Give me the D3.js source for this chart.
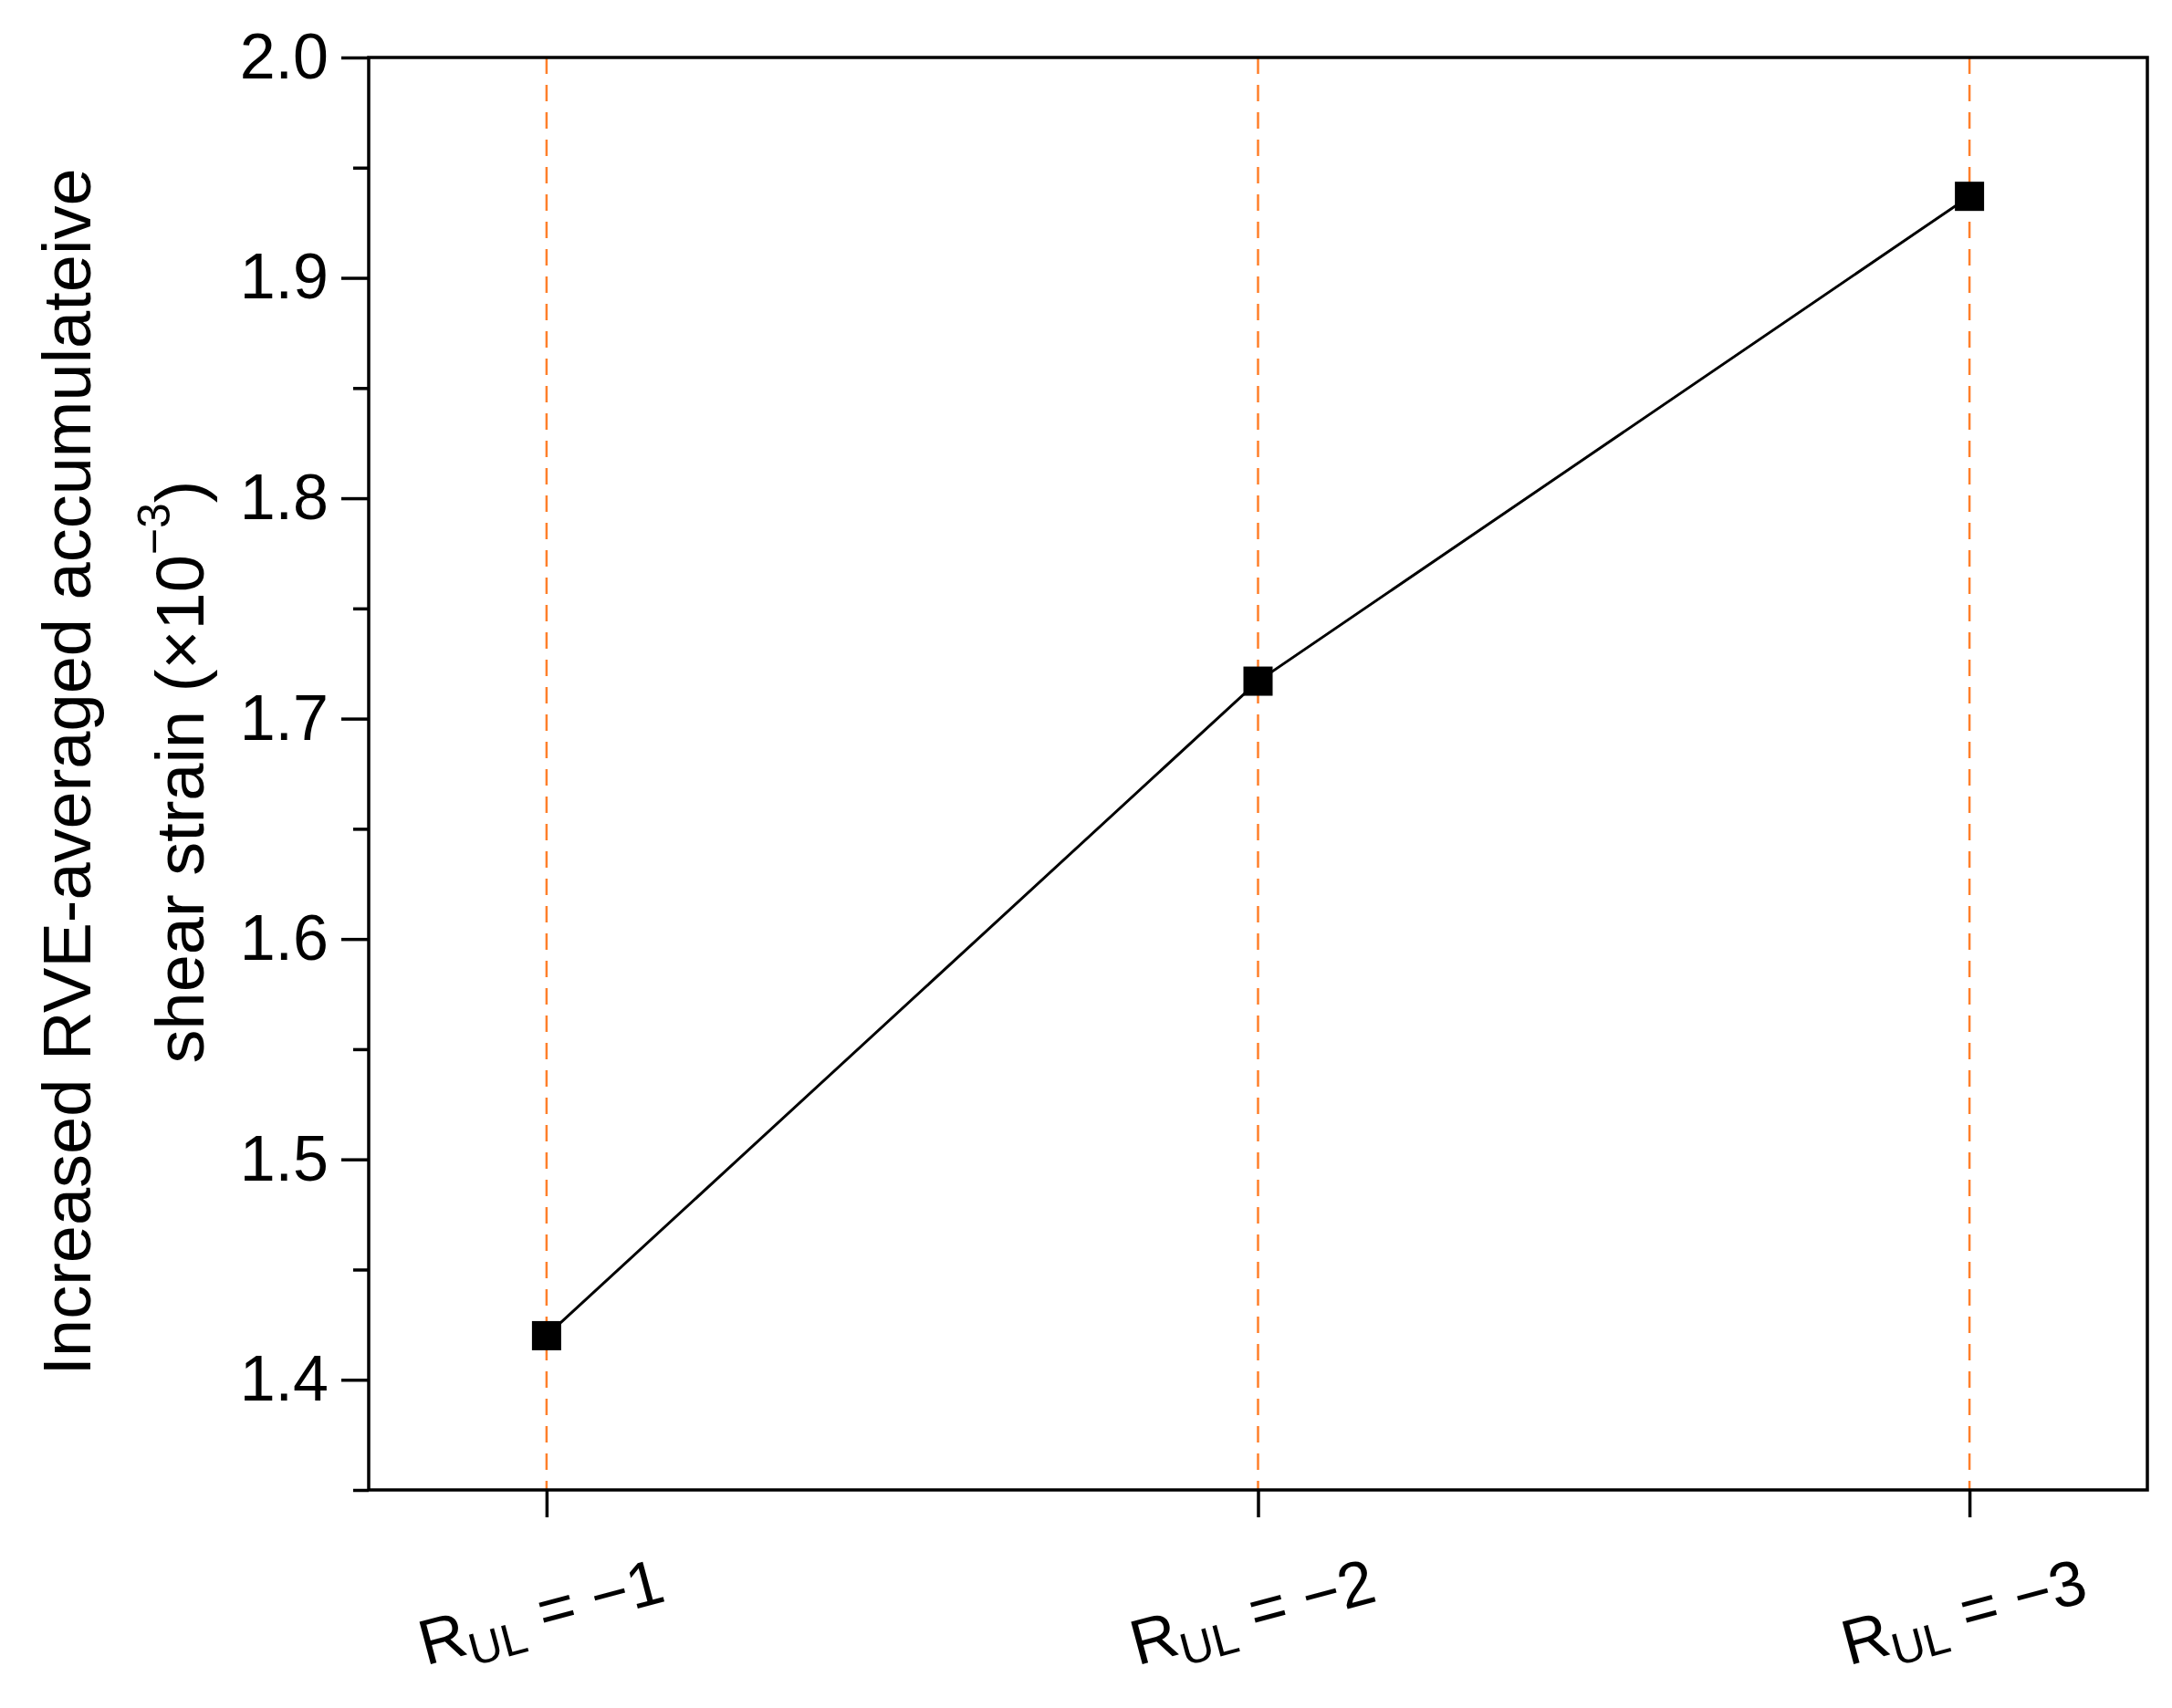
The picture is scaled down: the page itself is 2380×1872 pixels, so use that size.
<!DOCTYPE html>
<html>
  <head>
    <meta charset="utf-8">
    <script src="https://d3js.org/d3.v7.min.js"></script>
    <style>
      body { margin: 0; background: white; font-family: "Liberation Sans Narrow", "Liberation Sans", Arial, sans-serif; }
    </style>
  </head>
  <body>
    <div id="container"></div>
    <script type="text/javascript">
      "use strict";
      var categories = [1, 2, 3];
      var catLabels = ["\u22121", "\u22122", "\u22123"];
      var values = [1.42, 1.717, 1.937];
      var majorTicks = [1.4, 1.5, 1.6, 1.7, 1.8, 1.9, 2.0];
      var minorTicks = [1.35, 1.45, 1.55, 1.65, 1.75, 1.85, 1.95];

      var W = 2380, H = 1872;
      var pLeft = 404, pRight = 2353, pTop = 63, pBottom = 1633;

      var svg = d3.select("#container").append("svg")
        .attr("width", W).attr("height", H);

      var x = d3.scaleLinear().domain([0.75, 3.25]).range([pLeft, pRight]);
      var y = d3.scaleLinear().domain([1.35, 2.0]).range([pBottom, pTop]);

      // Orange dashed guide lines
      svg.selectAll("line.guide").data(categories).enter().append("line")
        .attr("x1", function(d) { return x(d); }).attr("x2", function(d) { return x(d); })
        .attr("y1", pTop).attr("y2", pBottom)
        .attr("stroke", "#ff7f2a").attr("stroke-width", 2.5)
        .attr("stroke-dasharray", "18,12");

      // Frame
      svg.append("rect").attr("x", pLeft).attr("y", pTop)
        .attr("width", pRight - pLeft).attr("height", pBottom - pTop)
        .attr("fill", "none").attr("stroke", "black").attr("stroke-width", 3.5);

      // Y axis
      var yAxis = svg.append("g").attr("transform", "translate(" + pLeft + ",0)")
        .call(d3.axisLeft(y).tickValues(majorTicks).tickSize(30).tickPadding(14)
          .tickFormat(d3.format(".1f")));
      yAxis.select(".domain").remove();
      yAxis.selectAll("line").attr("stroke-width", 3.5);
      yAxis.selectAll("text").attr("font-size", 70).attr("font-family", "inherit").attr("fill", "black");

      var yMinor = svg.append("g").attr("transform", "translate(" + pLeft + ",0)")
        .call(d3.axisLeft(y).tickValues(minorTicks).tickSize(17).tickFormat(""));
      yMinor.select(".domain").remove();
      yMinor.selectAll("line").attr("stroke-width", 3.5);

      // X axis
      var xAxis = svg.append("g").attr("transform", "translate(0," + pBottom + ")")
        .call(d3.axisBottom(x).tickValues(categories).tickSize(30).tickFormat(""));
      xAxis.select(".domain").remove();
      xAxis.selectAll("line").attr("stroke-width", 3.5);

      var lbl = svg.selectAll("text.xl").data(categories).enter().append("text")
        .attr("class", "xl")
        .attr("transform", function(d) { return "translate(" + x(d) + ",1790) rotate(-15)"; })
        .attr("text-anchor", "middle")
        .attr("font-size", 70).attr("fill", "black");
      lbl.append("tspan").text("R");
      lbl.append("tspan").attr("font-size", 50).attr("dy", 14).text("UL");
      lbl.append("tspan").attr("dy", -14).text(function(d, i) { return " = " + catLabels[i]; });

      // Line
      var line = d3.line()
        .x(function(d, i) { return x(categories[i]); })
        .y(function(d) { return y(d); });
      svg.append("path").datum(values).attr("d", line)
        .attr("fill", "none").attr("stroke", "black").attr("stroke-width", 3);

      svg.selectAll("rect.pt").data(values).enter().append("rect")
        .attr("x", function(d, i) { return x(categories[i]) - 16; })
        .attr("y", function(d) { return y(d) - 16; })
        .attr("width", 32).attr("height", 32).attr("fill", "black");

      // Y label
      svg.append("text")
        .attr("transform", "translate(73,846) rotate(-90)")
        .attr("text-anchor", "middle").attr("dominant-baseline", "central")
        .attr("font-size", 74).attr("font-family", "Liberation Sans, Arial, sans-serif")
        .text("Increased RVE-averaged accumulateive");
      var yl2 = svg.append("text")
        .attr("transform", "translate(197,846) rotate(-90)")
        .attr("text-anchor", "middle").attr("dominant-baseline", "central")
        .attr("font-size", 74).attr("font-family", "Liberation Sans, Arial, sans-serif");
      yl2.append("tspan").text("shear strain (\u00d710");
      yl2.append("tspan").attr("font-size", 50).attr("dy", -28).text("\u22123");
      yl2.append("tspan").attr("dy", 28).text(")");
    </script>
  </body>
</html>
